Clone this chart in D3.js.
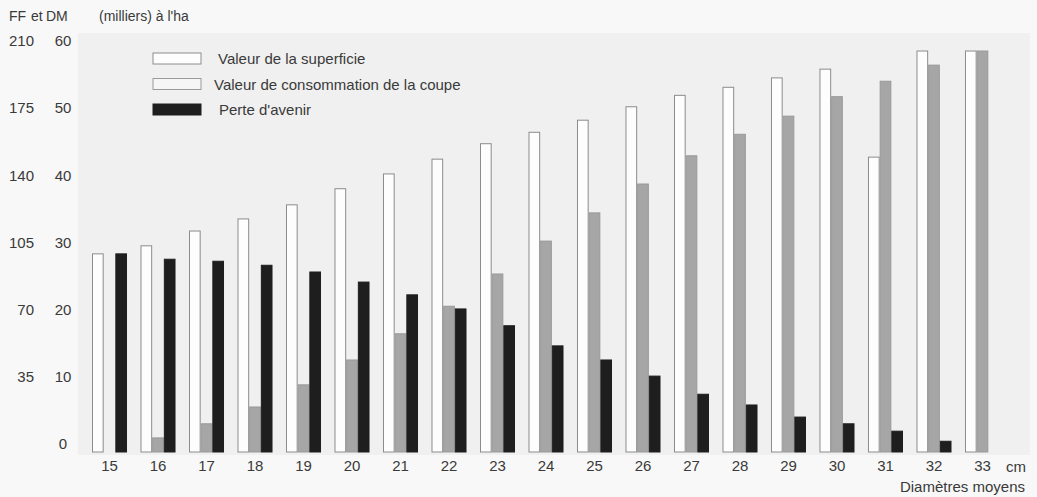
<!DOCTYPE html>
<html>
<head>
<meta charset="utf-8">
<script src="https://cdn.jsdelivr.net/npm/d3@7"></script>
<style>
  body { margin: 0; background: #f8f8f8; }
  text { font-family: "Liberation Sans", Arial, sans-serif; fill: #3a3a3a; }
</style>
</head>
<body>
<svg id="chart"></svg>
<script>
// diamètres moyens (cm)
const diametres = ["15","16","17","18","19","20","21","22","23","24","25","26","27","28","29","30","31","32","33"];

// valeurs en DM (milliers) à l'ha
const superficie   = [29.5, 30.7, 32.9, 34.7, 36.8, 39.2, 41.4, 43.6, 45.9, 47.6, 49.4, 51.4, 53.1, 54.3, 55.7, 57.0, 43.9, 59.7, 59.7];
const consommation = [0, 2.1, 4.2, 6.7, 10.0, 13.7, 17.6, 21.7, 26.5, 31.4, 35.6, 39.9, 44.1, 47.3, 50.0, 52.9, 55.2, 57.6, 59.7];
const perte        = [29.5, 28.7, 28.4, 27.8, 26.8, 25.3, 23.4, 21.3, 18.8, 15.8, 13.7, 11.3, 8.6, 7.0, 5.2, 4.2, 3.1, 1.6, 0];

const dmTicks = [0, 10, 20, 30, 40, 50, 60];
const ffTicks = [35, 70, 105, 140, 175, 210];
const legendLabels = ["Valeur de la superficie", "Valeur de consommation de la coupe", "Perte d'avenir"];

const width = 1037, height = 497;
const svg = d3.select("#chart").attr("width", width).attr("height", height);

// fond gris du graphique
svg.append("rect").attr("x", 78).attr("y", 33).attr("width", 952).attr("height", 422)
    .attr("fill", "#f0f0f0");

const x = d3.scaleBand().domain(diametres).range([92, 1000]).paddingInner(0.278).paddingOuter(0);
const x1 = d3.scaleBand().domain(["s", "c", "p"]).range([0, x.bandwidth()]);
const y = d3.scaleLinear().domain([0, 60]).range([452, 49]);

const series = [
    { key: "s", values: superficie, fill: "#fdfdfd", stroke: "#8c8c8c" },
    { key: "c", values: consommation, fill: "#a6a6a6", stroke: "#999" },
    { key: "p", values: perte, fill: "#1e1e1e", stroke: "#1e1e1e" }
];

series.forEach(s => {
    svg.append("g").selectAll("rect")
        .data(diametres.map((d, i) => ({ d: d, v: s.values[i] })).filter(o => o.v > 0))
        .enter()
        .append("rect")
        .attr("x", o => x(o.d) + x1(s.key) + 0.5)
        .attr("y", o => y(o.v))
        .attr("width", x1.bandwidth() - 1)
        .attr("height", o => y(0) - y(o.v))
        .attr("fill", s.fill)
        .attr("stroke", s.stroke)
        .attr("stroke-width", 1);
});

// axe DM
const dmAxis = svg.append("g").attr("transform", "translate(63,-8)")
    .call(d3.axisLeft(y).tickValues(dmTicks).tickSize(0).tickPadding(0));
dmAxis.select(".domain").remove();
dmAxis.selectAll("text").attr("text-anchor", "middle").style("font-size", "15px")
    .style("font-family", "Liberation Sans, Arial, sans-serif").attr("fill", "#3a3a3a");

// axe FF
svg.append("g").selectAll("text")
    .data(ffTicks)
    .enter()
    .append("text")
    .attr("x", 34)
    .attr("y", v => y(v / 3.5) - 8)
    .attr("dy", "0.35em")
    .attr("text-anchor", "end")
    .style("font-size", "15px")
    .text(v => v);

// axe des diamètres
const xAxis = svg.append("g").attr("transform", "translate(0,460)")
    .call(d3.axisBottom(x).tickSize(0).tickPadding(0));
xAxis.select(".domain").remove();
xAxis.selectAll("text").style("font-size", "15px")
    .style("font-family", "Liberation Sans, Arial, sans-serif").attr("fill", "#3a3a3a");

svg.append("text").attr("x", 1006).attr("y", 472).style("font-size", "15px").text("cm");
svg.append("text").attr("x", 1025).attr("y", 492).attr("text-anchor", "end")
    .style("font-size", "15px").text("Diamètres moyens");

// titre des axes
const header = [["FF", 9], ["et", 31], ["DM", 46], ["(milliers) à l'ha", 99]];
header.forEach(h => {
    svg.append("text").attr("x", h[1]).attr("y", 21).style("font-size", "14px").text(h[0]);
});

// légende
const legend = svg.append("g");
const legendFill = ["#fdfdfd", "#f6f6f6", "#1e1e1e"];
const legendStroke = ["#8c8c8c", "#9a9a9a", "#1e1e1e"];
const legendX = [218, 214, 219];
legendLabels.forEach((label, i) => {
    legend.append("rect").attr("x", 153).attr("y", 53 + i * 25.5).attr("width", 48).attr("height", 11)
        .attr("fill", legendFill[i]).attr("stroke", legendStroke[i]);
    legend.append("text").attr("x", legendX[i]).attr("y", 64 + i * 25.5)
        .style("font-size", "15px").text(label);
});
</script>
</body>
</html>
